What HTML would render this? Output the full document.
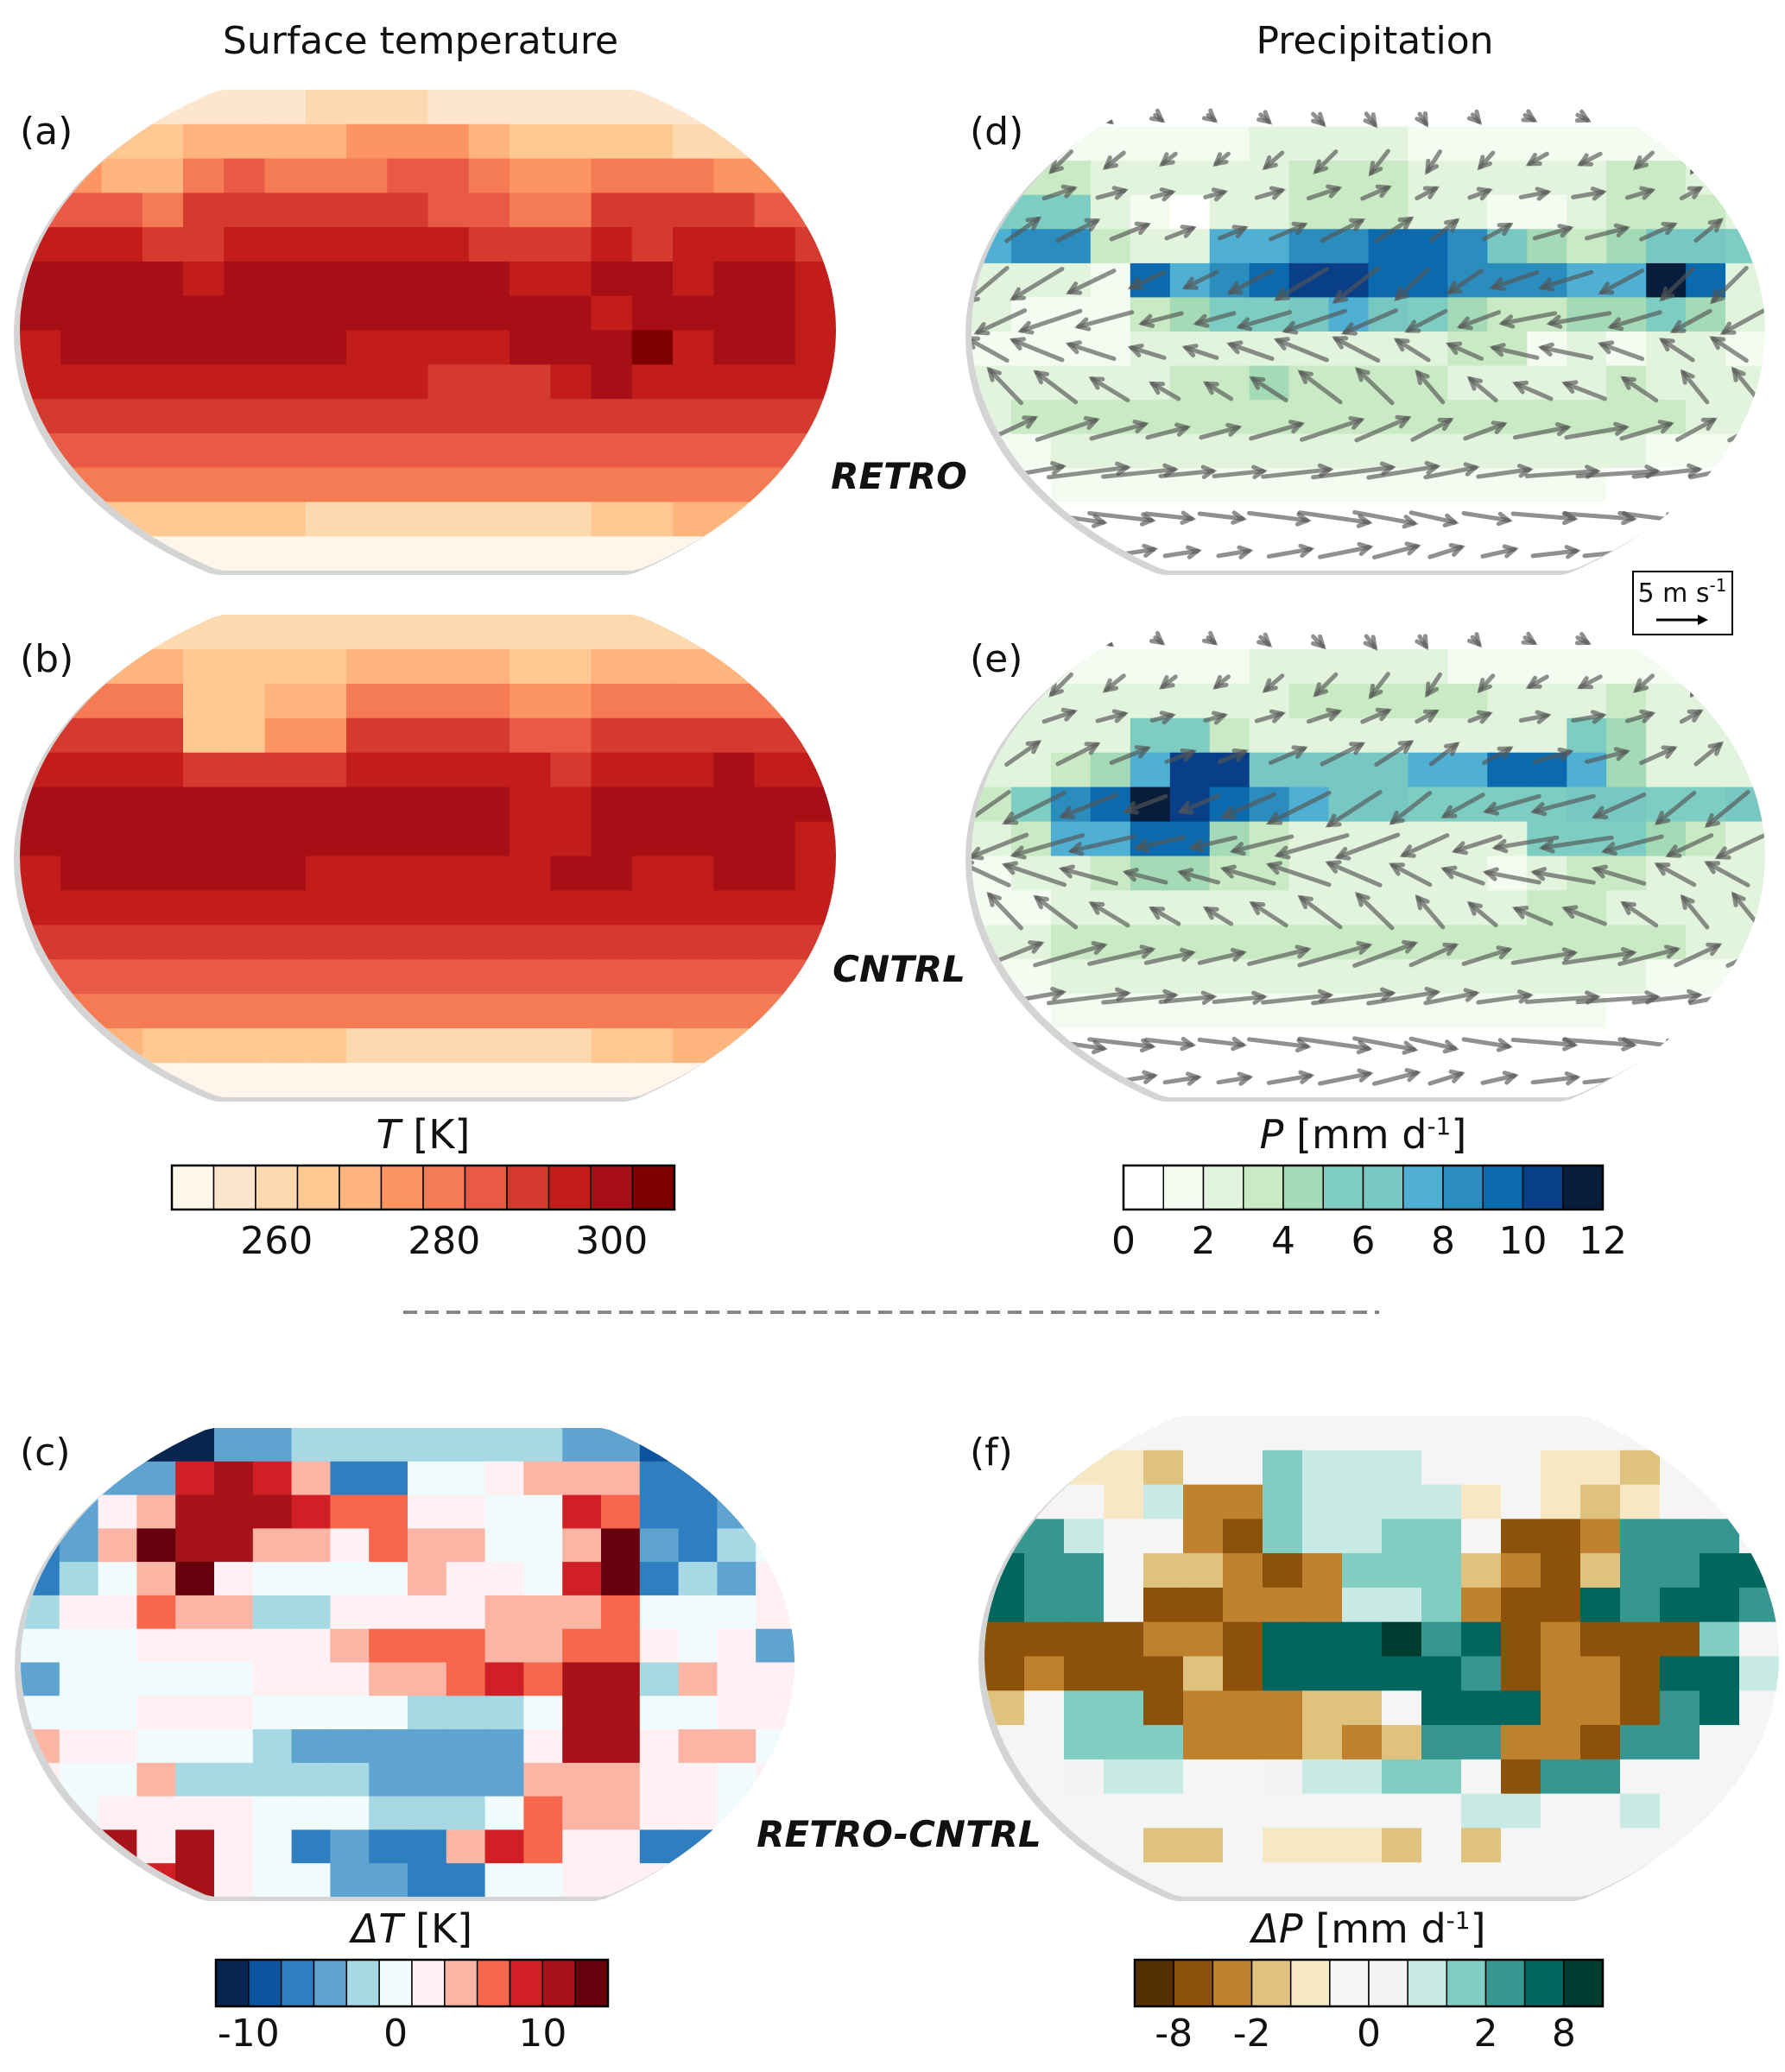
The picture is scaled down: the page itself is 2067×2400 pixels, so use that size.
<!DOCTYPE html>
<html><head><meta charset="utf-8">
<style>
html,body{margin:0;padding:0;background:#fff;}
body{width:2067px;height:2400px;position:relative;overflow:hidden;font-family:"DejaVu Sans","Liberation Sans",sans-serif;}
svg{position:absolute;left:0;top:0;}
</style></head>
<body>
<svg id="fig" width="2067" height="2400" viewBox="0 0 2067 2400"></svg>
<script>
// ---------- data ----------
const tColors=["#fff5eb","#fee6ce","#fdd9b0","#fdc891","#fdb47d","#fc9562","#f57b55","#e85a45","#d53a2f","#c21c1b","#a50f15","#7f0000"];
const pColors=["#ffffff","#f4fbf1","#e3f4de","#c9eac4","#a4dbb6","#7ecdc2","#77c7c3","#4fb0d3","#2b8cbe","#0a6aad","#083f87","#081d3b"];
const dtColors=["#08264f","#0d54a0","#2f7fc0","#5fa3d0","#a6d9e3","#f0fbfd","#fff0f3","#fbb5a5","#f7674d","#d11f26","#a51318","#67000d"];
const dpColors=["#543005","#8c510a","#bf812d","#dfc27d","#f6e8c3","#f5f5f5","#f3f3f3","#c7eae5","#80cdc1","#35978f","#01665e","#003c30"];
const tTicks=["260","280","300"], tTickBins=[2.5,6.5,10.5];
const pTicks=["0","2","4","6","8","10","12"], pTickBins=[0,2,4,6,8,10,12];
const dtTicks=["-10","0","10"], dtTickBins=[1,5.5,10];
const dpTicks=["-8","-2","0","2","8"], dpTickBins=[1,3,6,9,11];
const gridA=[
"11111112221111111111",
"33334444555433332222",
"55446766677655666555",
"77768888887766888877",
"99988999999888989998",
"aaaa9aaaaaaa99aa9aa9",
"aaaaaaaaaaaaaa9aaaa9",
"9aaaaaaa9999aaab9aa9",
"99999999998889a99999",
"88888888888888888888",
"77777777777777777777",
"66666666666666666666",
"44333332222222334444",
"00000000000000000000"];
const gridB=[
"22222222222222222222",
"44443333444433444444",
"66663344666655666666",
"88883355888877888888",
"99998888999998999a99",
"aaaaaaaaaaaa99aaaaaa",
"aaaaaaaaaaaa99aaaaa9",
"9aaaaaa999999aa99aa9",
"99999999999999999999",
"88888888888888888888",
"77777777777777777777",
"66666666666666666666",
"44433333222222334444",
"00000000000000000000"];
const gridD=[
"00000000000000000000",
"11111112222111111111",
"23322222333222223322",
"55521022333221123332",
"78832277889986434665",
"22219789aa9988877b92",
"21113455676543344542",
"11112222222233121221",
"22222334333322223222",
"23333333333333333322",
"11222222222222222111",
"00111111111111110000",
"00000000000000000000",
"00000000000000000000"];
const gridE=[
"00000000000000000000",
"11111112222211111111",
"12222222333332223222",
"22225532222222254222",
"22347aa6666779974222",
"3589ba98766555566556",
"23779943222222555432",
"12234433222221233222",
"11222222222222332222",
"22333333333333333322",
"11222222222222222111",
"00111111111111110000",
"00000000000000000000",
"00000000000000000000"];
const gridC=[
"00000334444444331000",
"22339a97225567772210",
"3367aaa9886655982233",
"237baa776877557b3245",
"2457b6555576659b2436",
"46687744666677785556",
"55566666788877886563",
"35555566677898aa4766",
"55566655554445aa5566",
"76655543333336aa6775",
"65574444433337776656",
"55666655544458776655",
"69a6a652322798662265",
"66a9a655332255666555"];
const gridF=[
"55555555555555555555",
"55443558777555443555",
"55547228777745434555",
"99755218778851129995",
"a99533212888321399aa",
"a99511222778211a9aa9",
"1111221aaab9a1211185",
"1211131aaaaa91221aa7",
"35881222335aaa2219a5",
"55888222323992219955",
"55677556778851995555",
"55555555555577557555",
"55553354443535555555",
"55555555555555555555"];
const windRowsD_u=[1,-2,3,4,-5,-6,-5,-4,6,8,7,5];
const windRowsD_v=[-1,-2,1,2,-3,-2,2,3,2,1,-1,1];
const windRowsE_u=[1,-2,3,4,-6,-7,-6,-4,7,8,7,5];
const windRowsE_v=[-1,-2,1,2,-3,-2,2,3,2,1,-1,1];

// ---------- drawing ----------
const NS="http://www.w3.org/2000/svg";
const svg=document.getElementById('fig');
function el(tag,attrs,parent){const e=document.createElementNS(NS,tag);for(const k in attrs)e.setAttribute(k,attrs[k]);(parent||svg).appendChild(e);return e;}
function txt(s,x,y,size,attrs,parent){const t=el('text',Object.assign({x:x,y:y,'font-size':size,'text-anchor':'middle',fill:'#111','font-family':'"DejaVu Sans","Liberation Sans",sans-serif'},attrs||{}),parent);t.textContent=s;return t;}
const binIdx=c=>parseInt(c,16);

function drawMap(name,box,grid,pal,winds){
  const g=el('g',{});
  
  
  const cx=box.x+box.w/2, cy=box.y+box.h/2, rx=box.w/2, ry=box.h/2/0.86;
  const id='clip-'+name;
  const cp=el('clipPath',{id:id},g);
  let pts=[];
  for(let i=0;i<=240;i++){
    const a=Math.PI*2*i/240;
    let x=cx+rx*Math.cos(a), y=cy+ry*Math.sin(a);
    if(y<box.y)y=box.y; if(y>box.y+box.h)y=box.y+box.h;
    pts.push(x.toFixed(1)+','+y.toFixed(1));
  }
  const d='M'+pts.join('L')+'Z';
  el('path',{d:d},cp);
  const rim=el('path',{d:d,fill:'#d4d4d4',transform:'translate(-7,5)'},g);
  
  
  const inner=el('g',{'clip-path':'url(#'+id+')'},g);
  el('rect',{x:box.x,y:box.y,width:box.w,height:box.h,fill:pal[binIdx(grid[grid.length-1][0])]},inner);
  const rows=grid.length;
  const ch=box.h/rows;
  grid.forEach((row,r)=>{
    const cols=row.length, cw=box.w/cols;
    for(let c=0;c<cols;c++){
      const cell=el('rect',{x:(box.x+c*cw).toFixed(1),y:(box.y+r*ch).toFixed(1),width:(cw+0.8).toFixed(1),height:(ch+0.8).toFixed(1),fill:pal[binIdx(row[c])]},inner);
      
      
    }
  });
  if(winds){
    const [us,vs]=winds;
    const wr=us.length, wc=15, sc=7;
    for(let r=0;r<wr;r++){
      for(let c=0;c<wc;c++){
        const x0=box.x+(c+0.5+(r%2)*0.3)*box.w/wc, y0=box.y+(r+0.6)*box.h/wr;
        const u=us[r]*(1+0.25*Math.sin(c*1.3)), v=vs[r]*(1+0.4*Math.cos(c*0.9));
        const x1=x0+u*sc, y1=y0-v*sc;
        const ar=el('g',{},inner);
        
        
        el('line',{x1:(x0-u*sc*0.3).toFixed(1),y1:(y0+v*sc*0.3).toFixed(1),x2:x1.toFixed(1),y2:y1.toFixed(1),stroke:'#555','stroke-width':5,'stroke-opacity':0.65,'stroke-linecap':'round'},ar);
        const ang=Math.atan2(y1-y0,x1-x0);
        const hx=x1-12*Math.cos(ang-0.5), hy=y1-12*Math.sin(ang-0.5);
        const kx=x1-12*Math.cos(ang+0.5), ky=y1-12*Math.sin(ang+0.5);
        el('polyline',{points:hx.toFixed(1)+','+hy.toFixed(1)+' '+x1.toFixed(1)+','+y1.toFixed(1)+' '+kx.toFixed(1)+','+ky.toFixed(1),fill:'none',stroke:'#555','stroke-width':5,'stroke-opacity':0.65,'stroke-linecap':'round'},ar);
      }
    }
  }
  return g;
}

function colorbar(name,x,y,w,h,pal,ticks,tickBins,title,titleY,tickY){
  const g=el('g',{});
  
  
  const bw=w/pal.length;
  pal.forEach((c,i)=>{
    const r=el('rect',{x:x+i*bw,y:y,width:bw,height:h,fill:c,stroke:'#000','stroke-width':1.5},g);
    
    
  });
  el('rect',{x:x,y:y,width:w,height:h,fill:'none',stroke:'#000','stroke-width':2.5},g);
  ticks.forEach((t,i)=>{
    const tl=txt(t,x+tickBins[i]*bw,tickY,44,{},g);
    
    
  });
  const tt=el('text',{x:x+w/2,y:titleY,'font-size':46,'text-anchor':'middle',fill:'#111','font-family':'"DejaVu Sans","Liberation Sans",sans-serif'},g);
  tt.innerHTML=title;
  
  
}

let t=txt('Surface temperature',487,62,44);

t=txt('Precipitation',1592,62,44);


drawMap('map-a-retro-temperature',{x:23,y:104,w:945,h:557},gridA,tColors,null);
drawMap('map-b-cntrl-temperature',{x:23,y:712,w:945,h:559},gridB,tColors,null);
drawMap('map-d-retro-precip',{x:1125,y:107,w:919,h:554},gridD,pColors,[windRowsD_u,windRowsD_v]);
drawMap('map-e-cntrl-precip',{x:1125,y:712,w:919,h:559},gridE,pColors,[windRowsE_u,windRowsE_v]);
drawMap('map-c-temperature-diff',{x:24,y:1654,w:896,h:543},gridC,dtColors,null);
drawMap('map-f-precip-diff',{x:1140,y:1640,w:920,h:557},gridF,dpColors,null);

[['(a)',23,167],['(b)',23,778],['(c)',23,1697],['(d)',1123,167],['(e)',1123,778],['(f)',1123,1697]].forEach(p=>{
  const l=txt(p[0],p[1],p[2],44,{'text-anchor':'start'});
  
  
});
[['RETRO',1041,566],['CNTRL',1041,1137],['RETRO-CNTRL',1041,2139]].forEach(p=>{
  const l=txt(p[0],p[1],p[2],42,{'font-weight':'bold','font-style':'italic'});
  
  
});

const key=el('g',{});


el('rect',{x:1891,y:662,width:115,height:73,fill:'#fff',stroke:'#000','stroke-width':2},key);
const kt=el('text',{x:1948,y:697,'font-size':30,'text-anchor':'middle',fill:'#111','font-family':'"DejaVu Sans",sans-serif'},key);
kt.innerHTML='5 m s<tspan dy="-12" font-size="20">-1</tspan>';
el('line',{x1:1918,y1:718,x2:1972,y2:718,stroke:'#000','stroke-width':3},key);
el('polygon',{points:'1978,718 1966,712 1966,724',fill:'#000'},key);

const dv=el('line',{x1:467,y1:1520,x2:1597,y2:1520,stroke:'#888','stroke-width':4,'stroke-dasharray':'16,9'});


colorbar('colorbar-temperature',199,1350,582,51,tColors,tTicks,tTickBins,'<tspan font-style="italic">T</tspan> [K]',1330,1452);
colorbar('colorbar-precip',1301,1350,555,51,pColors,pTicks,pTickBins,'<tspan font-style="italic">P</tspan> [mm d<tspan dy="-16" font-size="28">-1</tspan><tspan dy="16">]</tspan>',1330,1452);
colorbar('colorbar-temperature-diff',250,2270,454,54,dtColors,dtTicks,dtTickBins,'<tspan font-style="italic">ΔT</tspan> [K]',2250,2370);
colorbar('colorbar-precip-diff',1314,2270,542,54,dpColors,dpTicks,dpTickBins,'<tspan font-style="italic">ΔP</tspan> [mm d<tspan dy="-16" font-size="28">-1</tspan><tspan dy="16">]</tspan>',2250,2370);
</script>
</body></html>
